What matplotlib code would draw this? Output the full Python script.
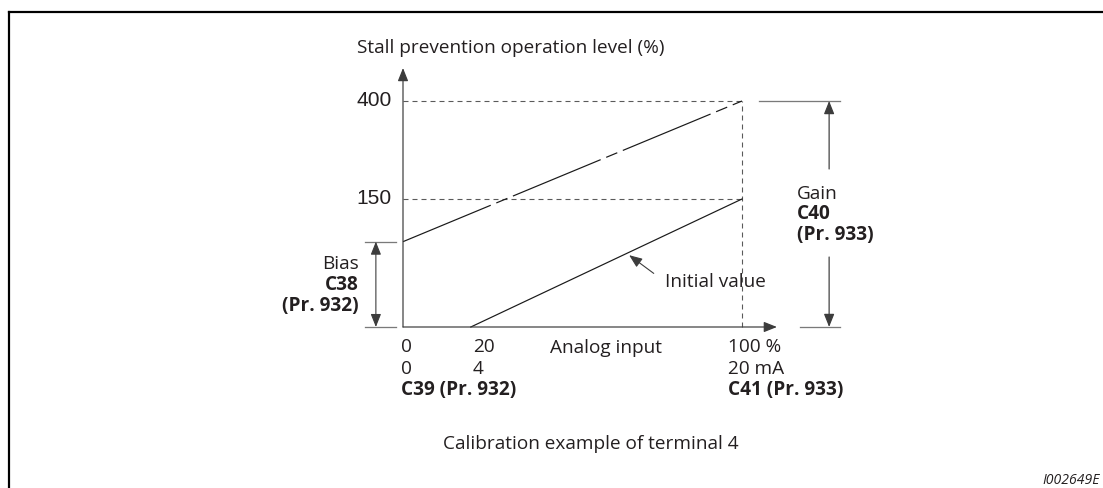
import numpy as np
import matplotlib
matplotlib.use("Agg")
import matplotlib.pyplot as plt
from matplotlib.lines import Line2D

plt.rcParams['font.family'] = ['Open Sans', 'DejaVu Sans']
plt.rcParams['lines.scale_dashes'] = False

W, H = 1103, 488
DPI = 72  # 1 pt == 1 px, so offsets below are in pixels
FS = 19

# analog input (%) vs stall prevention operation level (%)
input_range = [0, 100]
initial_input = [20, 100]      # 4 mA .. 20 mA
initial_level = [0, 150]       # initial value line
calib_level = [100, 400]       # bias C38 at 0 %, gain C40 at 100 %
level_ticks = [150, 400]
level_labels = ["150", "400"]
input_ticks = [0, 20, 100]
pct_labels = ["0", "20", "100 %"]
ma_labels = ["0", "4", "20 mA"]
param_labels = ["C39 (Pr. 932)", "", "C41 (Pr. 933)"]

# the level axis is drawn schematically, not to scale
lv_pts = [-1000, 0, 150, 400, 1400]
ht_pts = [-853.3, 0, 128, 226, 618]


def fwd(v):
    return np.interp(v, lv_pts, ht_pts)


def inv(h):
    return np.interp(h, ht_pts, lv_pts)


def figxy(x, y):
    return x / W, 1 - y / H


TXT = '#231f20'
AX = '#3c3c3c'
GUIDE = '#5a5a5a'
BRACKET = '#7a7a7a'

fig = plt.figure(figsize=(W / DPI, H / DPI), dpi=DPI)
ax = fig.add_axes([403 / W, 1 - 327 / H, 339 / W, 226 / H])
ax.set_yscale('function', functions=(fwd, inv))
ax.set_xlim(0, 100)
ax.set_ylim(0, 400)
ax.set_axis_off()

# frame corner (top and left edges only)
fig.add_artist(Line2D([8.5 / W, 1], [1 - 12 / H, 1 - 12 / H], transform=fig.transFigure,
                      color='black', lw=2.2))
fig.add_artist(Line2D([8.5 / W, 8.5 / W], [0, 1 - 12 / H], transform=fig.transFigure,
                      color='black', lw=2.2))

head = dict(arrowstyle='-|>,head_length=0.55,head_width=0.22', mutation_scale=20,
            color=AX, lw=1.2, shrinkA=0, shrinkB=0)

# axes with arrow heads
ax.annotate('', xy=(1.103, 0), xytext=(0, 0), xycoords='axes fraction',
            arrowprops=head, annotation_clip=False)
ax.annotate('', xy=(0, 1.146), xytext=(0, 0), xycoords='axes fraction',
            arrowprops=head, annotation_clip=False)

# dashed guides
for lv in level_ticks:
    ax.plot(input_range, [lv, lv], color=GUIDE, lw=1.1, dashes=(5, 4), clip_on=False)
ax.plot([input_range[1]] * 2, [0, calib_level[1]], color=GUIDE, lw=1.1, dashes=(5, 4),
        clip_on=False)

# characteristic lines
ax.plot(input_range, calib_level, color='#1a1a1a', lw=1.2, dashes=(95, 6, 12, 6),
        clip_on=False)
ax.plot(initial_input, initial_level, color='#1a1a1a', lw=1.2, clip_on=False)

# level labels
for lv, lab in zip(level_ticks, level_labels):
    ax.annotate(lab, xy=(0, lv), xytext=(-11, 0), textcoords='offset points',
                ha='right', va='center', fontsize=21, color=TXT,
                family=['Liberation Sans', 'DejaVu Sans'])

# input labels, three rows under the axis
x_shift = [-2, 2, -14]
for xv, dx, a, b, c in zip(input_ticks, x_shift, pct_labels, ma_labels, param_labels):
    ax.annotate(a, xy=(xv, 0), xytext=(dx, -25), textcoords='offset points',
                ha='left', va='baseline', fontsize=FS, color=TXT)
    ax.annotate(b, xy=(xv, 0), xytext=(dx, -47), textcoords='offset points',
                ha='left', va='baseline', fontsize=FS, color=TXT)
    if c:
        ax.annotate(c, xy=(xv, 0), xytext=(dx, -68), textcoords='offset points',
                    ha='left', va='baseline', fontsize=FS, color=TXT, weight='bold')

ax.annotate('Analog input', xy=(0, 0), xytext=(147, -26), textcoords='offset points',
            ha='left', va='baseline', fontsize=FS, color=TXT)

# initial value pointer
px_ = 66
py_ = np.interp(px_, initial_input, initial_level)
ax.annotate('Initial value', xy=(px_, py_), xytext=(38, -34), textcoords='offset points',
            ha='left', va='baseline', fontsize=FS, color=TXT)
ax.annotate('', xy=(px_, py_), xytext=(27, -20), textcoords='offset points',
            arrowprops=dict(arrowstyle='-|>,head_length=0.55,head_width=0.22',
                            mutation_scale=20, color=AX, lw=1.1, shrinkA=0, shrinkB=3))

# bias bracket
bias = calib_level[0]
for lv in (0, bias):
    ax.plot([-11.2, -2.1], [lv, lv], color=BRACKET, lw=1.3, clip_on=False)
ax.annotate('', xy=(-8.0, bias), xytext=(-8.0, 0),
            arrowprops=dict(arrowstyle='<|-|>,head_length=0.55,head_width=0.22',
                            mutation_scale=20, color=AX, lw=1.1, shrinkA=0, shrinkB=0),
            annotation_clip=False)
for txt, dy, wt in [('Bias', -27, 'normal'), ('C38', -48, 'bold'), ('(Pr. 932)', -69, 'bold')]:
    ax.annotate(txt, xy=(-13.0, bias), xytext=(0, dy), textcoords='offset points',
                ha='right', va='baseline', fontsize=FS, color=TXT, weight=wt,
                annotation_clip=False)

# gain bracket
gain = calib_level[1]
ax.plot([105.0, 128.9], [gain, gain], color=BRACKET, lw=1.3, clip_on=False)
ax.plot([117.1, 128.9], [0, 0], color=BRACKET, lw=1.3, clip_on=False)
ax.annotate('', xy=(125.7, gain), xytext=(0, -68), textcoords='offset points',
            arrowprops=head, annotation_clip=False)
ax.annotate('', xy=(125.7, 0), xytext=(0, 70), textcoords='offset points',
            arrowprops=head, annotation_clip=False)
for txt, dy, wt in [('Gain', -98, 'normal'), ('C40', -118, 'bold'), ('(Pr. 933)', -139, 'bold')]:
    ax.annotate(txt, xy=(116.2, gain), xytext=(0, dy), textcoords='offset points',
                ha='left', va='baseline', fontsize=FS, color=TXT, weight=wt,
                annotation_clip=False)

# titles
fig.text(*figxy(357, 53), 'Stall prevention operation level (%)', ha='left',
         va='baseline', fontsize=FS, color=TXT)
fig.text(*figxy(591, 449), 'Calibration example of terminal 4', ha='center',
         va='baseline', fontsize=FS, color=TXT)
fig.text(*figxy(1100, 484), 'I002649E', ha='right', va='baseline', fontsize=14,
         style='italic', color=TXT)

fig.savefig('out.png', dpi=DPI)
